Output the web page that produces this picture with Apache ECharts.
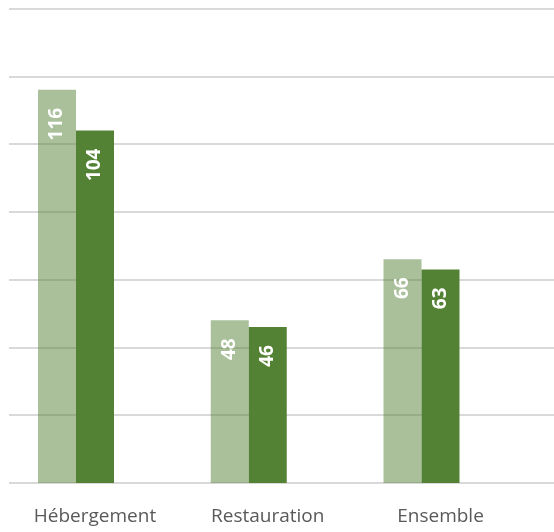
<!DOCTYPE html>
<html><head><meta charset="utf-8">
<script src="https://cdn.jsdelivr.net/npm/echarts@6/dist/echarts.min.js"></script>
<style>html,body{margin:0;padding:0;background:#fff}#c{width:554px;height:532px}</style>
</head><body><div id="c"></div>
<script>
const categories = ['Hébergement', 'Restauration', 'Ensemble'];
const seriesA = [116, 48, 66];
const seriesB = [104, 46, 63];
const yMin = 0, yMax = 140, yStep = 20;

const chart = echarts.init(document.getElementById('c'), null, {renderer: 'canvas'});
const labelCfg = {
  show: true, position: 'insideTop', rotate: 90, align: 'right', verticalAlign: 'middle',
  distance: 18, color: '#ffffff', fontWeight: 'bold', fontSize: 19, fontFamily: 'Open Sans'
};
chart.setOption({
  animation: false,
  grid: [
    {left: 9, right: 0, top: 8.5, bottom: 49},
    {left: 76, width: 345.5, top: 8.5, bottom: 49}
  ],
  xAxis: [
    {gridIndex: 0, type: 'value', show: false},
    {gridIndex: 1, type: 'category', data: categories, boundaryGap: false,
     axisLine: {show: false}, axisTick: {show: false},
     axisLabel: {color: '#595959', fontSize: 19, fontFamily: 'Open Sans', margin: 24, padding: [0, 0, 0, 38]}}
  ],
  yAxis: [
    {gridIndex: 0, type: 'value', min: yMin, max: yMax, interval: yStep,
     axisLabel: {show: false}, axisLine: {show: false}, axisTick: {show: false},
     splitLine: {show: true, lineStyle: {color: '#d9d9d9', width: 2}}},
    {gridIndex: 1, type: 'value', min: yMin, max: yMax, interval: yStep, show: false,
     splitLine: {show: false}}
  ],
  series: [
    {type: 'bar', xAxisIndex: 1, yAxisIndex: 1, data: seriesA, barWidth: 38, barGap: '0%',
     itemStyle: {color: 'rgba(84,130,53,0.5)'}, label: labelCfg},
    {type: 'bar', xAxisIndex: 1, yAxisIndex: 1, data: seriesB, barWidth: 38, barGap: '0%',
     itemStyle: {color: '#548235'}, label: labelCfg}
  ]
});
</script></body></html>
